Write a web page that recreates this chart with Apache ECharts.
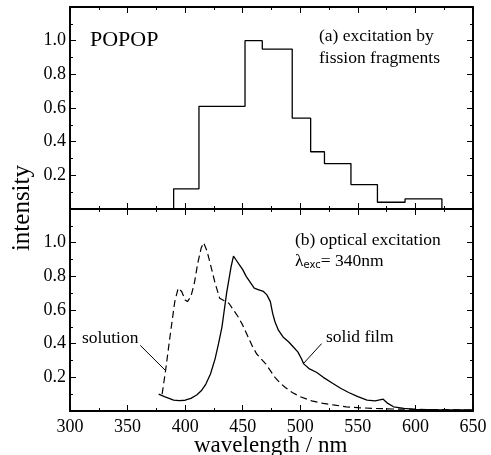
<!DOCTYPE html>
<html><head><meta charset="utf-8">
<script src="https://cdn.jsdelivr.net/npm/echarts@6/dist/echarts.min.js"></script>
<style>html,body{margin:0;padding:0;background:#fff}#c{width:491px;height:455px}</style>
</head><body><div id="c"></div>
<script>
// ---- data ----
var xTicks = [300, 350, 400, 450, 500, 550, 600, 650];
var yTickLabels = ['0.2', '0.4', '0.6', '0.8', '1.0'];
var histEdges = [390, 412, 452, 467, 493, 509, 521, 544, 567, 591, 623];
var histHeights = [0.12, 0.61, 1.0, 0.95, 0.54, 0.34, 0.27, 0.145, 0.04, 0.06];
var solutionX = [380,383,387,391,394,397,400,402,405,408,411,414,416,419,422,426,430,434,438,442,446,450,454,458,462,466,470,474,478,482,487,493,500,510,520,530,540,550,565,580,600,620,640,650];
var solutionY = [0.10,0.24,0.45,0.65,0.73,0.71,0.66,0.65,0.68,0.76,0.88,0.97,1.0,0.95,0.87,0.76,0.67,0.655,0.64,0.60,0.56,0.51,0.45,0.39,0.34,0.31,0.28,0.24,0.20,0.17,0.14,0.11,0.085,0.06,0.045,0.035,0.025,0.02,0.015,0.012,0.01,0.008,0.006,0.005];
var filmX = [377,382,386,390,395,400,405,410,414,418,422,426,429,432,434,436,438,440,442,444,447,450,453,456,460,464,468,471,474,476,478,481,485,490,494,498,501,503,508,514,520,528,535,542,550,558,565,572,576,581,590,600,620,640,650];
var filmY = [0.10,0.085,0.075,0.065,0.062,0.064,0.075,0.095,0.12,0.16,0.22,0.31,0.40,0.50,0.60,0.70,0.78,0.86,0.92,0.90,0.87,0.84,0.80,0.77,0.73,0.72,0.71,0.69,0.65,0.58,0.53,0.48,0.44,0.41,0.38,0.35,0.31,0.28,0.25,0.23,0.20,0.165,0.135,0.11,0.085,0.065,0.06,0.07,0.045,0.025,0.015,0.01,0.008,0.007,0.006];
// leader lines [x, y] in data units
var solutionLeader = [[361, 0.39], [383, 0.24]];
var filmLeader = [[518.5, 0.40], [502.5, 0.28]];

// ---- build ----
function zip(xs, ys){ return xs.map(function(x,i){ return [x, ys[i]]; }); }
var histData = [[histEdges[0], 0]];
for (var i = 0; i < histHeights.length; i++) histData.push([histEdges[i+1], histHeights[i]]);
histData.push([histEdges[histEdges.length-1], 0]);

var FONT = 'Liberation Serif';
var L = 70, R = 18;
var grids = [
  {left: L, right: R, top: 7, height: 202, show: true, borderColor: '#000', borderWidth: 1.5},
  {left: L, right: R, top: 209, height: 202, show: true, borderColor: '#000', borderWidth: 1.5}
];
function xAx(gi, labels, pos){
  return {type: 'value', gridIndex: gi, min: 300, max: 650, interval: 50, position: pos || 'bottom',
    axisLine: {show: true, onZero: false, lineStyle: {color: '#000', width: 1.8}},
    axisTick: {show: true, inside: true, length: 6, lineStyle: {color: '#000', width: 1}},
    minorTick: {show: true, splitNumber: 2, length: 3, lineStyle: {color: '#000'}},
    splitLine: {show: false},
    axisLabel: {show: labels, fontFamily: FONT, fontSize: 18, color: '#000', margin: 7,
      formatter: function(v){ return xTicks.indexOf(v) >= 0 ? String(v) : ''; }}
  };
}
function yAx(gi, labels, pos){
  return {type: 'value', gridIndex: gi, min: 0, max: 1.2, interval: 0.2, position: pos || 'left',
    axisLine: {show: true, lineStyle: {color: '#000', width: 1.8}},
    axisTick: {show: true, inside: true, length: 6, lineStyle: {color: '#000', width: 1}},
    minorTick: {show: true, splitNumber: 2, length: 3, lineStyle: {color: '#000'}},
    splitLine: {show: false},
    axisLabel: {show: labels, fontFamily: FONT, fontSize: 18, color: '#000', margin: 4,
      formatter: function(v){ var s = v.toFixed(1); return yTickLabels.indexOf(s) >= 0 ? s : ''; }}
  };
}
var lineBase = {type: 'line', showSymbol: false, symbol: 'none', animation: false, silent: true};
var option = {
  animation: false,
  grid: grids,
  xAxis: [xAx(0, false), xAx(1, true), xAx(0, false, 'top'), xAx(1, false, 'top')],
  yAxis: [yAx(0, true), yAx(1, true), yAx(0, false, 'right'), yAx(1, false, 'right')],
  series: [
    Object.assign({}, lineBase, {name: 'fission', xAxisIndex: 0, yAxisIndex: 0, step: 'start', data: histData,
      lineStyle: {color: '#000', width: 1.3}}),
    Object.assign({}, lineBase, {name: 'solution', xAxisIndex: 1, yAxisIndex: 1, data: zip(solutionX, solutionY),
      lineStyle: {color: '#000', width: 1.2, type: [7, 4]},
      markLine: {silent: true, symbol: ['none','none'], animation: false, label: {show: false},
        lineStyle: {color: '#000', width: 1, type: 'solid'},
        data: [[{coord: solutionLeader[0]}, {coord: solutionLeader[1]}]]}}),
    Object.assign({}, lineBase, {name: 'solid film', xAxisIndex: 1, yAxisIndex: 1, data: zip(filmX, filmY),
      lineStyle: {color: '#000', width: 1.3},
      markLine: {silent: true, symbol: ['none','none'], animation: false, label: {show: false},
        lineStyle: {color: '#000', width: 1, type: 'solid'},
        data: [[{coord: filmLeader[0]}, {coord: filmLeader[1]}]]}})
  ],
  graphic: [
    {type: 'text', left: 90, top: 29, style: {text: 'POPOP', font: '22px "Liberation Serif"', fill: '#000'}},
    {type: 'text', left: 319, top: 25, style: {text: '(a) excitation by\nfission fragments', font: '17.5px "Liberation Serif"', lineHeight: 22.5, fill: '#000'}},
    {type: 'text', left: 295, top: 231, style: {text: '(b) optical excitation', font: '17.5px "Liberation Serif"', fill: '#000'}},
    {type: 'text', left: 295, top: 252, style: {rich: {
      a: {fontFamily: FONT, fontSize: 17.5, fill: '#000', verticalAlign: 'bottom', lineHeight: 20},
      s: {fontFamily: 'DejaVu Sans', fontSize: 10, fill: '#000', verticalAlign: 'bottom', lineHeight: 14, padding: [0,0,0,0]}
    }, text: '{a|λ}{s|exc}{a|= 340nm}'}},
    {type: 'text', left: 82, top: 329, style: {text: 'solution', font: '17.5px "Liberation Serif"', fill: '#000'}},
    {type: 'text', left: 326, top: 328, style: {text: 'solid film', font: '17.5px "Liberation Serif"', fill: '#000'}},
    {type: 'text', left: 10, top: 165, rotation: Math.PI/2, style: {text: 'intensity', font: '25px "Liberation Serif"', fill: '#000'}},
    {type: 'text', left: 194, top: 434, style: {text: 'wavelength / nm', font: '23px "Liberation Serif"', fill: '#000'}}
  ]
};
var chart = echarts.init(document.getElementById('c'), null, {renderer: 'canvas'});
chart.setOption(option);
</script></body></html>
